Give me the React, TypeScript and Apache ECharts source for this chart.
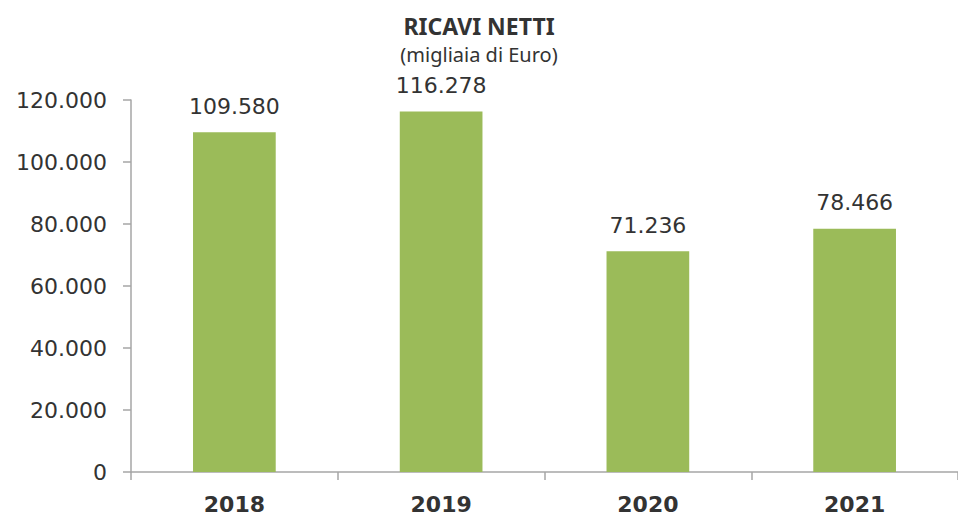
import React, { useEffect, useRef } from "react";
import * as echarts from "echarts";

const categories = ["2018", "2019", "2020", "2021"];
const values = [109580, 116278, 71236, 78466];
const yTicks = [0, 20000, 40000, 60000, 80000, 100000, 120000];

const fmt = (v: number) => {
  const s = Math.round(v).toString();
  return s.replace(/\B(?=(\d{3})+(?!\d))/g, ".");
};

export default function App() {
  const ref = useRef<HTMLDivElement>(null);
  useEffect(() => {
    if (!ref.current) return;
    const chart = echarts.init(ref.current, null, { renderer: "svg" });
    const font = "'DejaVu Sans', Verdana, sans-serif";
    const titleFont = "'Noto Sans', 'Open Sans', sans-serif";
    chart.setOption({
      animation: false,
      textStyle: { fontFamily: font },
      title: {
        text: "RICAVI NETTI",
        subtext: "(migliaia di Euro)",
        left: "center",
        top: 8,
        itemGap: 4,
        textStyle: { fontFamily: titleFont, fontSize: 23, fontWeight: "bold", color: "#333333", lineHeight: 26 },
        subtextStyle: { fontFamily: titleFont, fontSize: 20, color: "#333333", lineHeight: 22 },
      },
      grid: { left: 131, top: 100, width: 832, height: 372 },
      xAxis: {
        type: "category",
        data: categories,
        axisLine: { lineStyle: { color: "#A6A6A6", width: 1.5 } },
        axisTick: { show: true, length: 8, lineStyle: { color: "#A6A6A6", width: 1.5 } },
        axisLabel: { fontFamily: font, fontSize: 22, fontWeight: "bold", color: "#333333", margin: 21 },
      },
      yAxis: {
        type: "value",
        min: yTicks[0],
        max: yTicks[yTicks.length - 1],
        interval: 20000,
        splitLine: { show: false },
        axisLine: { show: true, lineStyle: { color: "#A6A6A6", width: 1.5 } },
        axisTick: { show: true, length: 8, lineStyle: { color: "#A6A6A6", width: 1.5 } },
        axisLabel: {
          fontFamily: font,
          fontSize: 22,
          color: "#333333",
          margin: 24,
          formatter: (v: number) => fmt(v),
        },
      },
      series: [
        {
          type: "bar",
          data: values,
          barCategoryGap: "60%",
          itemStyle: { color: "#9BBB59" },
          label: {
            show: true,
            position: "top",
            distance: 15,
            fontFamily: font,
            fontSize: 22,
            color: "#333333",
            formatter: (p: any) => fmt(p.value),
          },
        },
      ],
    });
    return () => chart.dispose();
  }, []);
  return (
    <div
      ref={ref}
      style={{ position: "absolute", left: 0, top: 0, width: 958, height: 517, background: "#ffffff" }}
    />
  );
}
